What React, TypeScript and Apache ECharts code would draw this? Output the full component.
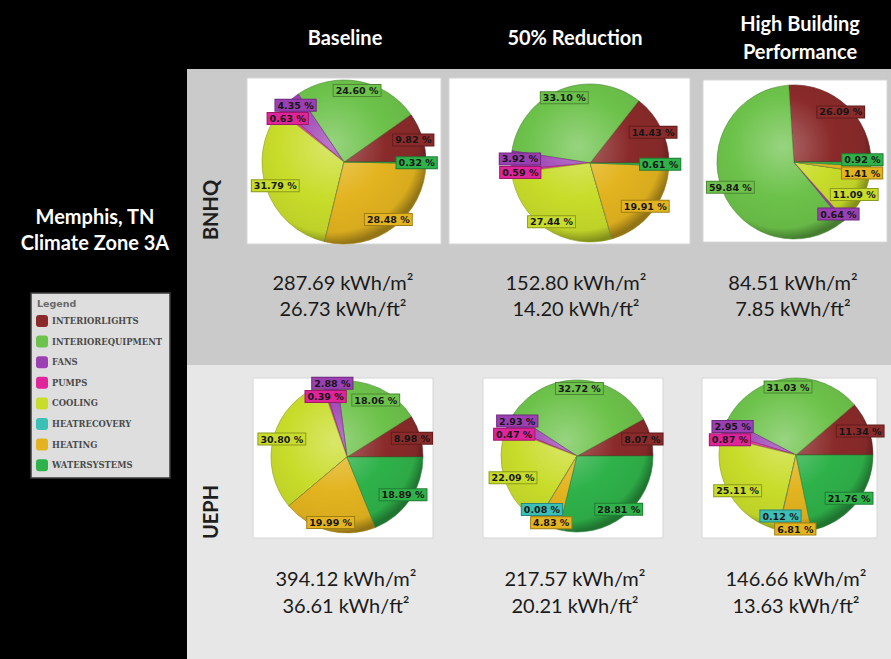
import React, { useEffect, useRef } from 'react';
import * as echarts from 'echarts';

// ---------- data ----------
const categories = ['INTERIORLIGHTS', 'INTERIOREQUIPMENT', 'FANS', 'PUMPS', 'COOLING', 'HEATRECOVERY', 'HEATING', 'WATERSYSTEMS'];
const scenarios = ['Baseline', '50% Reduction', 'High Building\nPerformance'];
const buildings = ['BNHQ', 'UEPH'];
const location = ['Memphis, TN', 'Climate Zone 3A'];

const bnhqBaseline = [9.82, 24.6, 4.35, 0.63, 31.79, 0, 28.48, 0.32];
const bnhqReduction = [14.43, 33.1, 3.92, 0.59, 27.44, 0, 19.91, 0.61];
const bnhqHighPerf = [26.09, 59.84, 0.64, 0, 11.09, 0, 1.41, 0.92];
const uephBaseline = [8.98, 18.06, 2.88, 0.39, 30.8, 0, 19.99, 18.89];
const uephReduction = [8.07, 32.72, 2.93, 0.47, 22.09, 0.08, 4.83, 28.81];
const uephHighPerf = [11.34, 31.03, 2.95, 0.87, 25.11, 0.12, 6.81, 21.76];

const bnhqIntensityM2 = [287.69, 152.8, 84.51];
const bnhqIntensityFt2 = [26.73, 14.2, 7.85];
const uephIntensityM2 = [394.12, 217.57, 146.66];
const uephIntensityFt2 = [36.61, 20.21, 13.63];

// ---------- styles / layout ----------
const categoryColors = ['#8a2a2a', '#6cc24a', '#9b3fb3', '#e0249a', '#c8dc2a', '#3cbfb4', '#e3b420', '#2fb24a'];
const pieSets = [bnhqBaseline, bnhqReduction, bnhqHighPerf, uephBaseline, uephReduction, uephHighPerf];
const pieLayout = [
  { c: [344, 162], r: 82 },
  { c: [590, 163], r: 79 },
  { c: [794, 162], r: 77 },
  { c: [347, 457], r: 76 },
  { c: [577, 456], r: 76 },
  { c: [796, 455], r: 77 },
];
const panelBoxes = [
  [247, 78, 194, 166],
  [449, 78, 241, 166],
  [703, 80, 184, 162],
  [253, 378, 180, 160],
  [483, 378, 180, 160],
  [702, 378, 175, 160],
];
const headerX = [345, 575, 800];
const rowTextX = [
  [343, 576, 793],
  [346, 575, 796],
];
const rowTextY = [
  [282, 308],
  [578, 605],
];

function mix(hex: string, target: string, t: number) {
  const p = (h: string) => [1, 3, 5].map((i) => parseInt(h.slice(i, i + 2), 16));
  const a = p(hex);
  const b = p(target);
  const c = a.map((v, i) => Math.round(v + (b[i] - v) * t));
  return '#' + c.map((v) => v.toString(16).padStart(2, '0')).join('');
}

function labelText(v: number) {
  return v.toFixed(2) + ' %';
}

// simple overlap avoidance for inside labels (pushes apart in y)
function labelShifts(values: number[], r: number) {
  const total = values.reduce((s, v) => s + v, 0);
  let acc = 0;
  const items: { i: number; x: number; y: number; w: number }[] = [];
  values.forEach((v, i) => {
    const a0 = (acc / total) * 2 * Math.PI;
    acc += v;
    const a1 = (acc / total) * 2 * Math.PI;
    if (v <= 0) return;
    const mid = (a0 + a1) / 2;
    const len = labelText(v).length;
    items.push({ i, x: 0.85 * r * Math.cos(mid), y: -0.85 * r * Math.sin(mid), w: 6.6 * (len - 3) + 23 });
  });
  const base = items.map((it) => it.y);
  const h = 13;
  for (let iter = 0; iter < 60; iter++) {
    for (let a = 0; a < items.length; a++) {
      for (let b = a + 1; b < items.length; b++) {
        const A = items[a];
        const B = items[b];
        const dx = Math.abs(A.x - B.x);
        const dy = Math.abs(A.y - B.y);
        if (dx < (A.w + B.w) / 2 && dy < h) {
          const push = (h - dy) / 2 + 0.01;
          if (A.y <= B.y) {
            A.y -= push;
            B.y += push;
          } else {
            A.y += push;
            B.y -= push;
          }
        }
      }
    }
  }
  const out = values.map(() => 0);
  items.forEach((it, k) => {
    out[it.i] = it.y - base[k];
  });
  return out;
}

export default function App() {
  const ref = useRef<HTMLDivElement>(null);

  useEffect(() => {
    if (!ref.current) return;
    const chart = echarts.init(ref.current, null, { renderer: 'svg' });

    const shifts = pieSets.map((vals, k) => labelShifts(vals, pieLayout[k].r));

    const pieSeries: any[] = pieSets.map((vals, k) => {
      const { c, r } = pieLayout[k];
      return {
        type: 'pie',
        center: c,
        radius: [0, r],
        startAngle: 0,
        clockwise: false,
        silent: true,
        emphasis: { disabled: true },
        label: { show: false },
        labelLine: { show: false },
        z: 2,
        data: vals.map((v, i) => {
          const col = categoryColors[i];
          return {
            name: categories[i],
            value: v,
            itemStyle: {
              color: {
                type: 'radial',
                x: c[0] - 0.15 * r,
                y: c[1] - 0.2 * r,
                r: 1.2 * r,
                global: true,
                colorStops: [
                  { offset: 0, color: mix(col, '#ffffff', 0.3) },
                  { offset: 0.55, color: col },
                  { offset: 0.88, color: mix(col, '#000000', 0.05) },
                  { offset: 1, color: mix(col, '#000000', 0.35) },
                ],
              },
              borderColor: mix(col, '#000000', 0.3),
              borderWidth: 0.6,
            },
          };
        }),
      };
    });

    const labelSeries: any[] = pieSets.map((vals, k) => {
      const { c, r } = pieLayout[k];
      return {
        type: 'pie',
        center: c,
        radius: [0.7 * r, r],
        startAngle: 0,
        clockwise: false,
        silent: true,
        emphasis: { disabled: true },
        itemStyle: { color: 'rgba(0,0,0,0)' },
        labelLine: { show: false },
        z: 3,
        label: {
          show: true,
          position: 'inside',
          formatter: (p: any) => labelText(p.value),
          fontFamily: 'DejaVu Sans',
          fontWeight: 'bold',
          fontSize: 9.5,
          color: '#161616',
          padding: [1, 2, 0, 2],
          lineHeight: 10,
          borderWidth: 1,
        },
        labelLayout: (p: any) => ({ dy: shifts[k][p.dataIndex] || 0 }),
        data: vals.map((v, i) => ({
          name: categories[i],
          value: v,
          label: {
            show: v > 0,
            backgroundColor: categoryColors[i],
            borderColor: mix(categoryColors[i], '#000000', 0.3),
          },
        })),
      };
    });

    const textFont = '20px Lato, "Open Sans", sans-serif';
    const boldFont = 'bold 20px Lato, "Open Sans", sans-serif';

    const graphics: any[] = [
      { type: 'rect', shape: { x: 0, y: 0, width: 891, height: 659 }, style: { fill: '#000000' } },
      { type: 'rect', shape: { x: 187, y: 69, width: 704, height: 296 }, style: { fill: '#cacaca' } },
      { type: 'rect', shape: { x: 187, y: 365, width: 704, height: 294 }, style: { fill: '#e7e7e7' } },
      ...panelBoxes.map((b) => ({
        type: 'rect',
        shape: { x: b[0], y: b[1], width: b[2], height: b[3] },
        style: { fill: '#ffffff', stroke: '#d6d6d6', lineWidth: 1 },
      })),
      ...scenarios.map((s, i) => ({
        type: 'text',
        x: headerX[i],
        y: 37,
        style: { text: s, align: 'center', verticalAlign: 'middle', font: boldFont, fill: '#ffffff', lineHeight: 28 },
      })),
      {
        type: 'text',
        x: 95,
        y: 229,
        style: { text: location.join('\n'), align: 'center', verticalAlign: 'middle', font: boldFont, fill: '#ffffff', lineHeight: 26 },
      },
      ...buildings.map((b, i) => ({
        type: 'text',
        x: 210,
        y: i === 0 ? 210 : 512,
        rotation: Math.PI / 2,
        style: { text: b, align: 'center', verticalAlign: 'middle', font: boldFont, fill: '#1e1e1e' },
      })),
      ...[0, 1].flatMap((row) => {
        const m2 = row === 0 ? bnhqIntensityM2 : uephIntensityM2;
        const ft2 = row === 0 ? bnhqIntensityFt2 : uephIntensityFt2;
        return [0, 1, 2].flatMap((col) => [
          {
            type: 'text',
            x: rowTextX[row][col],
            y: rowTextY[row][0],
            style: { text: m2[col].toFixed(2) + ' kWh/m²', align: 'center', verticalAlign: 'middle', font: textFont, fill: '#1a1a1a' },
          },
          {
            type: 'text',
            x: rowTextX[row][col],
            y: rowTextY[row][1],
            style: { text: ft2[col].toFixed(2) + ' kWh/ft²', align: 'center', verticalAlign: 'middle', font: textFont, fill: '#1a1a1a' },
          },
        ]);
      }),
      { type: 'rect', shape: { x: 31, y: 293, width: 139, height: 185 }, style: { fill: '#dedede', stroke: '#3a3a3a', lineWidth: 1.5 } },
      {
        type: 'text',
        x: 37,
        y: 303,
        style: { text: 'Legend', align: 'left', verticalAlign: 'middle', font: 'bold 9.5px "DejaVu Sans", sans-serif', fill: '#6a6a6a' },
      },
    ];

    chart.setOption({
      animation: false,
      backgroundColor: '#000000',
      graphic: { elements: graphics },
      legend: {
        orient: 'vertical',
        left: 36,
        top: 315,
        padding: 0,
        itemWidth: 12,
        itemHeight: 12,
        itemGap: 8.6,
        icon: 'roundRect',
        selectedMode: false,
        data: categories.map((n, i) => ({ name: n, itemStyle: { color: categoryColors[i], borderWidth: 0 } })),
        textStyle: { fontFamily: 'DejaVu Serif', fontWeight: 'bold', fontSize: 8.4, color: '#4a4a4a', padding: [0, 0, 0, -1] },
      },
      series: [...pieSeries, ...labelSeries],
    });

    return () => chart.dispose();
  }, []);

  return <div ref={ref} style={{ position: 'fixed', left: 0, top: 0, width: 891, height: 659 }} />;
}
